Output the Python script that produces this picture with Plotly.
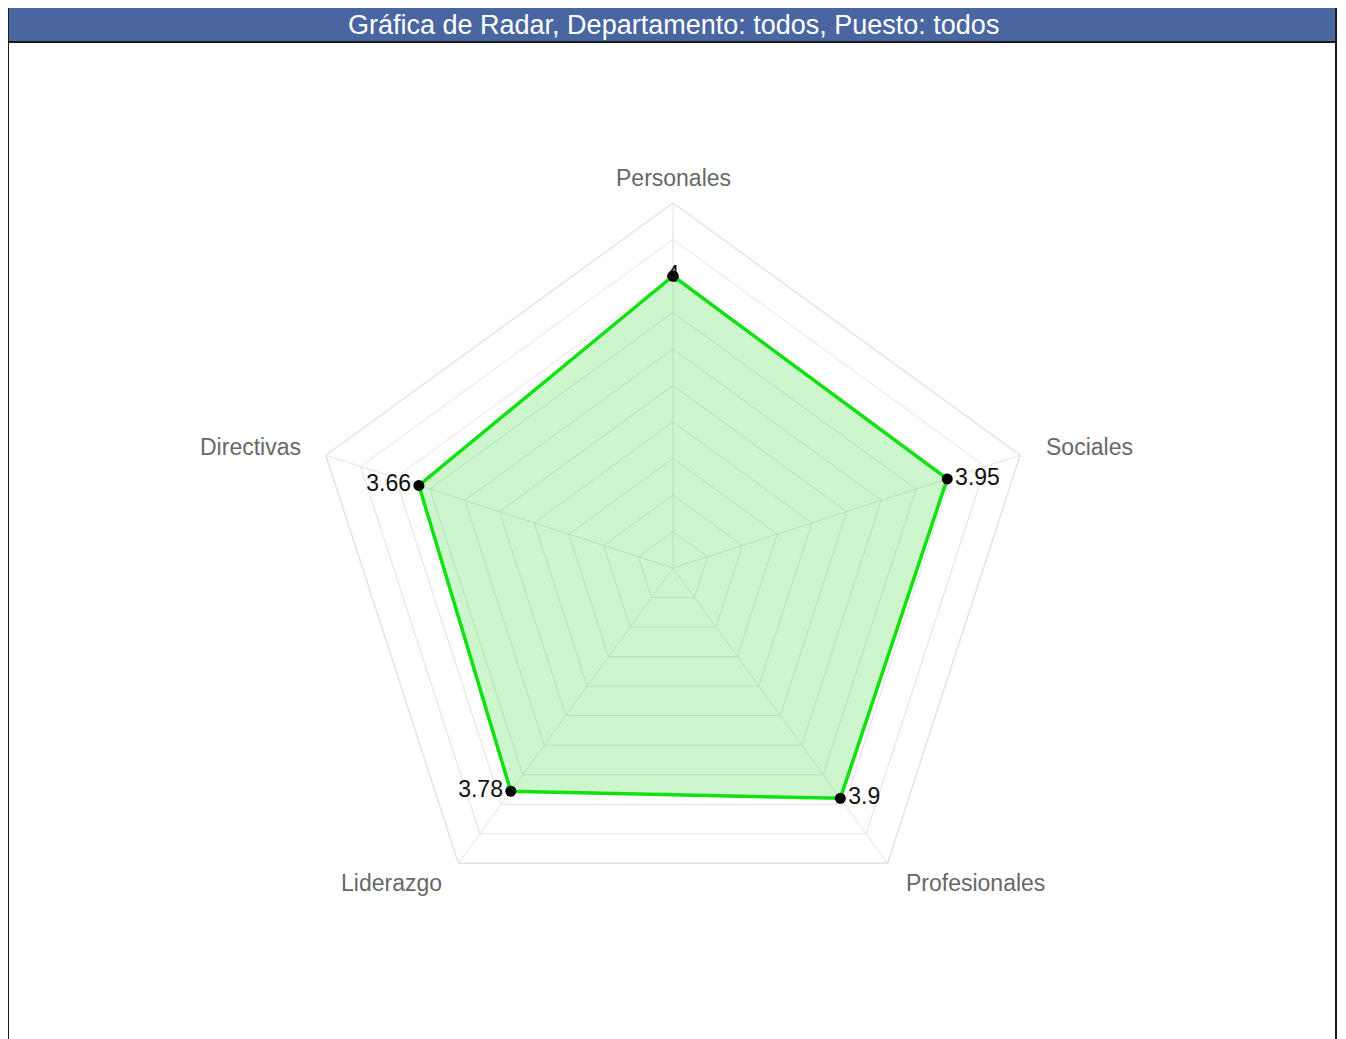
import plotly.graph_objects as go

categories = ["Personales", "Sociales", "Profesionales", "Liderazgo", "Directivas"]
values = [4, 3.95, 3.9, 3.78, 3.66]
value_labels = ["4", "3.95", "3.9", "3.78", "3.66"]
text_positions = ["middle center", "middle right", "middle right", "middle left", "middle left"]
title_text = "Gráfica de Radar, Departamento: todos, Puesto: todos"

W, H = 1346, 1039
OFF = 8  # page body margin
FONT = "Arial, Liberation Sans, Helvetica, sans-serif"


def px(x):
    return (x - OFF) / W


def py(y):
    return (H - (y - OFF)) / H


# close the polygon
r_closed = values + [values[0]]
theta_closed = categories + [categories[0]]
text_closed = value_labels + [""]
pos_closed = text_positions + ["middle center"]

fig = go.Figure()
fig.add_trace(go.Scatterpolar(
    r=r_closed,
    theta=theta_closed,
    mode="lines+markers+text",
    text=text_closed,
    textposition=pos_closed,
    textfont=dict(family=FONT, size=23, color="#111111"),
    fill="toself",
    fillcolor="rgba(40,215,40,0.23)",
    line=dict(color="#11e011", width=3.5),
    marker=dict(color="black", size=11),
    hoverinfo="skip",
))

cx, cy, R = 673, 568, 365

# category label anchor points (page pixels) around the outer ring
label_xy = {
    "Personales": (673, 178),
    "Sociales": (1089, 447),
    "Profesionales": (975, 883),
    "Liderazgo": (391, 883),
    "Directivas": (250, 447),
}

annotations = [
    dict(text=title_text, xref="paper", yref="paper", x=px(673), y=py(25),
         xanchor="center", yanchor="middle", showarrow=False,
         font=dict(family=FONT, size=27, color="white")),
]
for cat in categories:
    x, y = label_xy[cat]
    annotations.append(dict(text=cat, xref="paper", yref="paper", x=px(x), y=py(y),
                            xanchor="center", yanchor="middle", showarrow=False,
                            font=dict(family=FONT, size=23, color="#686868")))

fig.update_layout(
    width=W, height=H,
    margin=dict(l=0, r=0, t=0, b=0),
    paper_bgcolor="white",
    showlegend=False,
    polar=dict(
        domain=dict(x=[px(cx - R), px(cx + R)], y=[py(cy + R), py(cy - R)]),
        bgcolor="white",
        gridshape="linear",
        radialaxis=dict(range=[0, 5], dtick=0.5, showticklabels=False, ticks="",
                        showline=False, gridcolor="#e2e2e2", gridwidth=1.4),
        angularaxis=dict(rotation=90, direction="clockwise", ticks="",
                         showticklabels=False,
                         showline=True, linecolor="#e2e2e2", linewidth=1.4,
                         gridcolor="#e2e2e2", gridwidth=1.4),
    ),
    shapes=[
        # title bar
        dict(type="rect", xref="paper", yref="paper",
             x0=px(7), x1=px(1336), y0=py(42), y1=py(7),
             fillcolor="#4a66a1", line=dict(color="#1a1a1a", width=2), layer="above"),
        # frame
        dict(type="line", xref="paper", yref="paper", x0=px(8), x1=px(8), y0=-0.01, y1=py(7),
             line=dict(color="#1a1a1a", width=2)),
        dict(type="line", xref="paper", yref="paper", x0=px(1336), x1=px(1336), y0=-0.01, y1=py(7),
             line=dict(color="#1a1a1a", width=2)),
    ],
    annotations=annotations,
)

fig.write_html("out.html")
